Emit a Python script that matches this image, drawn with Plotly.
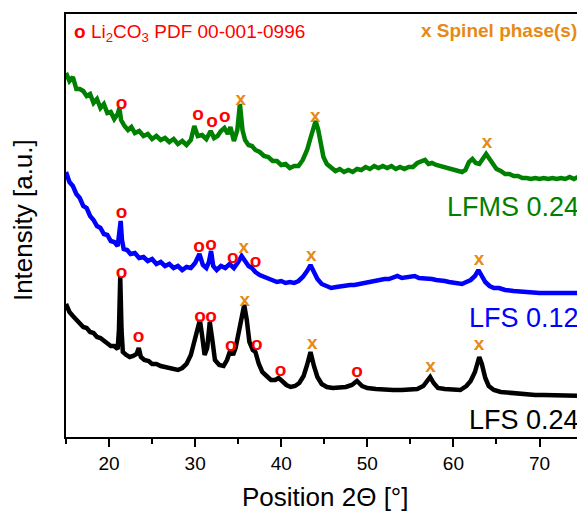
import plotly.graph_objects as go

# ---------------- data ----------------
# 2-theta positions (deg) and offset intensities (a.u.) for each stacked pattern
lfms024_x = [15.0, 15.4, 15.8, 16.2, 16.6, 17.0, 17.4, 17.8, 18.2, 18.6, 19.0, 19.4, 19.8, 20.2, 20.6, 21.0,
             21.2, 21.4, 21.8, 22.2, 22.6, 23.0, 23.5, 24.0, 24.5, 25.0, 25.5, 26.0, 26.5, 27.0, 27.5, 28.0,
             28.5, 29.0, 29.5, 29.9, 30.3, 30.8, 31.3, 31.8, 32.2, 32.6, 33.0, 33.4, 33.8, 34.1, 34.5, 34.9,
             35.2, 35.5, 35.8, 36.2, 36.6, 37.0, 37.5, 38.0, 38.5, 39.0, 39.5, 40.0, 40.5, 41.0, 41.5, 42.0,
             42.5, 43.0, 43.4, 43.8, 44.0, 44.3, 44.6, 44.9, 45.3, 45.8, 46.3, 46.8, 47.3, 47.8, 48.3, 48.8,
             49.3, 49.8, 50.3, 50.8, 51.3, 51.8, 52.3, 52.8, 53.3, 53.8, 54.3, 54.8, 55.3, 55.8, 56.3, 56.7,
             57.1, 57.5, 58.0, 58.5, 59.0, 59.5, 60.0, 60.5, 61.0, 61.4, 61.8, 62.2, 62.6, 63.0, 63.4, 63.8,
             64.2, 64.6, 65.0, 65.5, 66.0, 66.5, 67.0, 67.5, 68.0, 68.5, 69.0, 69.5, 70.0, 70.5, 71.0, 71.5,
             72.0, 72.5, 73.0, 73.5, 74.0, 74.5, 75.0]
lfms024_y = [364, 356, 360, 348, 348, 346, 341, 343, 334, 338, 329, 333, 324, 325, 318, 323,
             329, 317, 311, 307, 310, 304, 306, 301, 303, 298, 301, 297, 299, 295, 298, 293,
             296, 292, 297, 311, 301, 302, 298, 306, 299, 301, 306, 309, 303, 310, 296, 307,
             333, 307, 297, 292, 291, 287, 285, 281, 280, 276, 276, 272, 273, 269, 271, 271,
             277, 287, 299, 312, 316, 307, 292, 280, 273, 269, 266, 268, 265, 267, 265, 268,
             267, 270, 268, 271, 269, 271, 269, 271, 268, 270, 268, 270, 270, 274, 276, 277,
             273, 274, 272, 271, 269, 269, 267, 267, 265, 267, 275, 278, 274, 273, 278, 283,
             278, 272, 268, 266, 263, 263, 261, 261, 259, 259, 258, 259, 258, 259, 258, 259,
             258, 259, 258, 260, 258, 260, 259]

lfs012_x = [15.0, 15.4, 15.8, 16.2, 16.6, 17.0, 17.4, 17.8, 18.2, 18.6, 19.0, 19.4, 19.8, 20.2, 20.6, 21.0,
            21.2, 21.35, 21.5, 21.7, 22.1, 22.5, 23.0, 23.5, 24.0, 24.5, 25.0, 25.5, 26.0, 26.5, 27.0, 27.5,
            28.0, 28.5, 29.0, 29.5, 30.0, 30.5, 30.9, 31.3, 31.6, 31.85, 32.1, 32.5, 33.0, 33.5, 34.0, 34.5,
            35.0, 35.4, 35.8, 36.2, 36.6, 37.0, 37.5, 38.0, 38.5, 39.0, 39.5, 40.0, 40.5, 41.0, 41.5, 42.0,
            42.5, 43.0, 43.4, 43.8, 44.2, 44.7, 45.2, 45.8, 46.4, 47.0, 47.5, 48.0, 48.5, 49.0, 49.5, 50.0,
            50.5, 51.0, 51.5, 52.0, 52.5, 53.0, 53.5, 54.0, 54.5, 55.0, 55.5, 56.0, 56.5, 57.0, 57.5, 58.0,
            58.5, 59.0, 59.5, 60.0, 60.5, 61.0, 61.5, 62.0, 62.5, 62.9, 63.3, 63.7, 64.2, 64.7, 65.3, 66.0,
            67.0, 68.0, 69.0, 70.0, 71.0, 72.0, 73.0, 74.0, 75.0]
lfs012_y = [265, 255, 251, 243, 239, 231, 229, 221, 217, 211, 209, 203, 202, 196, 195, 191,
            205, 216, 197, 188, 187, 183, 184, 179, 180, 176, 178, 173, 175, 171, 173, 169,
            171, 167, 170, 169, 174, 183, 172, 169, 175, 186, 171, 167, 171, 169, 173, 169,
            175, 181, 176, 171, 169, 165, 162, 160, 158, 157, 155, 156, 154, 155, 154, 156,
            160, 166, 172, 165, 158, 153, 151, 149, 150, 151, 151, 152, 152, 153, 154, 155,
            155, 156, 157, 158, 158, 159, 161, 159, 160, 160, 161, 159, 159, 158, 158, 157,
            157, 156, 155, 154, 153, 153, 155, 157, 161, 167, 161, 155, 151, 149, 149, 147,
            146, 145, 145, 144, 144, 144, 144, 144, 144]

lfs024_x = [15.0, 15.4, 15.8, 16.2, 16.6, 17.0, 17.4, 17.8, 18.2, 18.6, 19.0, 19.4, 19.8, 20.2, 20.6, 21.0,
            21.15, 21.3, 21.45, 21.6, 22.0, 22.4, 22.8, 23.2, 23.45, 23.7, 24.1, 24.6, 25.0, 25.5, 26.0, 26.5,
            27.0, 27.5, 28.0, 28.5, 29.0, 29.5, 29.9, 30.3, 30.55, 30.8, 31.1, 31.4, 31.7, 32.0, 32.3, 32.8,
            33.3, 33.7, 34.1, 34.4, 34.7, 35.0, 35.4, 35.7, 36.0, 36.3, 36.7, 37.0, 37.4, 37.8, 38.3, 38.8,
            39.3, 39.7, 40.1, 40.6, 41.1, 41.6, 42.1, 42.6, 43.0, 43.4, 43.8, 44.2, 44.7, 45.3, 46.0, 46.8,
            47.5, 48.2, 48.8, 49.4, 50.0, 51.0, 52.0, 53.0, 54.0, 55.0, 55.8, 56.5, 57.0, 57.3, 57.7, 58.2,
            59.0, 60.0, 60.8, 61.5, 62.0, 62.5, 62.8, 63.0, 63.3, 63.7, 64.1, 64.7, 65.5, 66.5, 67.5, 68.5,
            69.5, 70.5, 71.5, 72.5, 73.5, 74.5, 75.0]
lfs024_y = [133, 125, 121, 117, 114, 110, 109, 105, 104, 100, 99, 96, 94, 91, 91, 88,
            107, 160, 107, 85, 82, 80, 81, 83, 89, 80, 77, 76, 73, 73, 71, 70,
            69, 68, 67, 69, 73, 82, 97, 111, 117, 102, 82, 89, 115, 97, 77, 72,
            71, 77, 87, 82, 89, 102, 122, 132, 117, 95, 87, 85, 73, 65, 61, 57,
            57, 59, 56, 52, 50, 51, 54, 61, 72, 85, 71, 60, 53, 50, 49, 49,
            50, 52, 56, 51, 49, 48, 47, 47, 47, 47, 48, 51, 56, 60, 54, 49,
            48, 47, 47, 51, 56, 65, 75, 80, 73, 59, 51, 47, 45, 44, 43, 43,
            42, 42, 42, 42, 41, 42, 41]

# phase markers: (2-theta, height) per pattern
li2co3_x = [21.46, 30.34, 31.95, 33.45,
            21.46, 30.46, 31.84, 34.38, 37.03,
            21.46, 23.42, 30.57, 31.84, 34.15, 37.15, 39.91, 48.8]
li2co3_y = [333, 322, 315, 320,
            224, 190, 192, 179, 175,
            164, 100, 120, 120, 91, 92, 66, 65]
spinel_x = [35.3, 43.95, 63.9,
            35.65, 43.49, 62.98,
            35.76, 43.6, 57.33, 62.98]
spinel_y = [337, 320, 294,
            189, 181, 177,
            136, 93, 70, 92]

sample_names = ["LFMS 0.24", "LFS 0.12", "LFS 0.24"]
sample_colors = ["#008000", "#0000FF", "#000000"]
label_y = [0.544, 0.281, 0.040]

x_ticks = [20, 30, 40, 50, 60, 70]

RED = "#FF0000"
ORANGE = "#E68A14"
FONT = "Liberation Sans, Arial, sans-serif"

fig = go.Figure()
for xs, ys, col in [(lfms024_x, lfms024_y, sample_colors[0]),
                    (lfs012_x, lfs012_y, sample_colors[1]),
                    (lfs024_x, lfs024_y, sample_colors[2])]:
    fig.add_trace(go.Scatter(x=xs, y=ys, mode="lines",
                             line=dict(color=col, width=4.5), showlegend=False,
                             hoverinfo="skip"))

fig.add_trace(go.Scatter(x=li2co3_x, y=li2co3_y, mode="text", text=["<b>o</b>"] * len(li2co3_x),
                         textposition="middle center",
                         textfont=dict(family=FONT, size=19, color=RED), showlegend=False))
fig.add_trace(go.Scatter(x=spinel_x, y=spinel_y, mode="text", text=["<b>x</b>"] * len(spinel_x),
                         textposition="middle center",
                         textfont=dict(family=FONT, size=19, color=ORANGE), showlegend=False))

annotations = [
    dict(text="<b>o</b> Li<sub>2</sub>CO<sub>3</sub> PDF 00-001-0996", xref="paper", yref="paper",
         x=0.011, y=0.955, xanchor="left", yanchor="middle", showarrow=False,
         font=dict(family=FONT, size=19, color=RED)),
    dict(text="<b>x Spinel phase(s)</b>", xref="paper", yref="paper",
         x=0.992, y=0.960, xanchor="right", yanchor="middle", showarrow=False,
         font=dict(family=FONT, size=19, color=ORANGE)),
    dict(text="Intensity [a.u.]", xref="paper", yref="paper", x=-0.083, y=0.513,
         xanchor="center", yanchor="middle", textangle=-90, showarrow=False,
         font=dict(family=FONT, size=26, color="black")),
    dict(text="Position 2\u0398 [\u00b0]", xref="paper", yref="paper", x=0.501, y=-0.142,
         xanchor="center", yanchor="middle", showarrow=False,
         font=dict(family=FONT, size=26, color="black")),
]
for name, col, ly in zip(sample_names, sample_colors, label_y):
    annotations.append(dict(text=name, xref="paper", yref="paper", x=0.996, y=ly,
                            xanchor="right", yanchor="middle", showarrow=False,
                            font=dict(family=FONT, size=27, color=col)))

# the page body adds an 8 px offset, so the figure is 8 px smaller and its margins shifted
fig.update_layout(
    width=577, height=505,
    margin=dict(l=58, r=0, t=6, b=76),
    paper_bgcolor="white", plot_bgcolor="white",
    annotations=annotations,
    xaxis=dict(range=[15, 75.05], tickvals=x_ticks, ticktext=[str(v) for v in x_ticks],
               ticks="outside", ticklen=8, tickwidth=2, tickcolor="black",
               showline=True, linecolor="black", linewidth=2, mirror=True,
               showgrid=False, zeroline=False,
               tickfont=dict(family=FONT, size=19, color="black"),
               minor=dict(dtick=5, tick0=15, ticks="outside", ticklen=5, tickwidth=2,
                          tickcolor="black", showgrid=False)),
    yaxis=dict(range=[0, 423], showticklabels=False, ticks="",
               showline=True, linecolor="black", linewidth=2, mirror=True,
               showgrid=False, zeroline=False),
)

fig.write_html("out.html")
